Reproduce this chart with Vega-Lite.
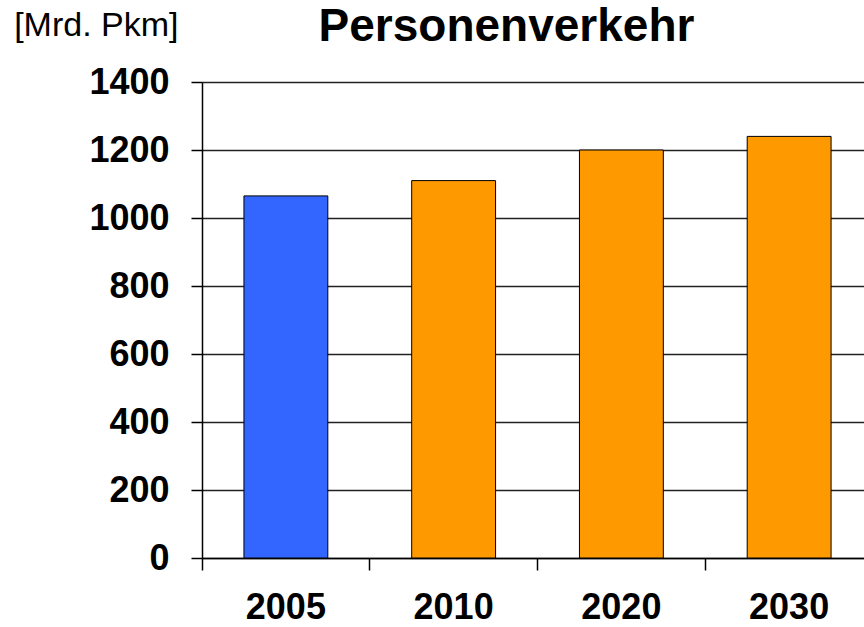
{
  "$schema": "https://vega.github.io/schema/vega-lite/v6.json",
  "autosize": {"type": "none"},
  "padding": {"left": 202, "top": 82, "right": 0, "bottom": 69},
  "width": 671,
  "height": 476,
  "background": "white",
  "title": {
    "text": "Personenverkehr",
    "font": "Liberation Sans",
    "fontSize": 46,
    "fontWeight": "bold",
    "color": "black",
    "anchor": "middle",
    "frame": "group",
    "dx": -31,
    "offset": -43
  },
  "data": {
    "values": [
      {"jahr": "2005", "wert": 1065, "kategorie": "Ist"},
      {"jahr": "2010", "wert": 1110, "kategorie": "Prognose"},
      {"jahr": "2020", "wert": 1200, "kategorie": "Prognose"},
      {"jahr": "2030", "wert": 1240, "kategorie": "Prognose"}
    ]
  },
  "mark": {"type": "bar", "stroke": "black", "strokeWidth": 1, "width": {"band": 0.5}},
  "encoding": {
    "x": {
      "field": "jahr",
      "type": "ordinal",
      "scale": {"paddingInner": 0, "paddingOuter": 0},
      "axis": {
        "title": null,
        "bandPosition": 0,
        "labelAngle": 0,
        "labelFont": "Liberation Sans",
        "labelFontSize": 36,
        "labelFontWeight": "bold",
        "labelColor": "black",
        "labelPadding": 20,
        "labelBaseline": "top",
        "tickSize": 12,
        "tickColor": "black",
        "domainColor": "black",
        "domainWidth": 1.5,
        "tickWidth": 1.5,
        "grid": false
      }
    },
    "y": {
      "field": "wert",
      "type": "quantitative",
      "scale": {"domain": [0, 1400], "nice": false},
      "axis": {
        "values": [0, 200, 400, 600, 800, 1000, 1200, 1400],
        "format": "d",
        "title": "[Mrd. Pkm]",
        "titleAngle": 0,
        "titleAlign": "right",
        "titleBaseline": "alphabetic",
        "titleX": -24,
        "titleY": -47,
        "titleFont": "Liberation Sans",
        "titleFontSize": 34,
        "titleFontWeight": "normal",
        "titleColor": "black",
        "labelFont": "Liberation Sans",
        "labelFontSize": 36,
        "labelFontWeight": "bold",
        "labelColor": "black",
        "labelPadding": 22,
        "tickSize": 11,
        "tickColor": "black",
        "tickWidth": 1.5,
        "domainColor": "black",
        "domainWidth": 1.5,
        "grid": true,
        "gridColor": "#222222",
        "gridWidth": 1.5,
        "gridOpacity": 1
      }
    },
    "color": {
      "field": "kategorie",
      "type": "nominal",
      "scale": {"domain": ["Ist", "Prognose"], "range": ["#3366FF", "#FF9900"]},
      "legend": null
    }
  },
  "config": {"view": {"stroke": null}}
}
